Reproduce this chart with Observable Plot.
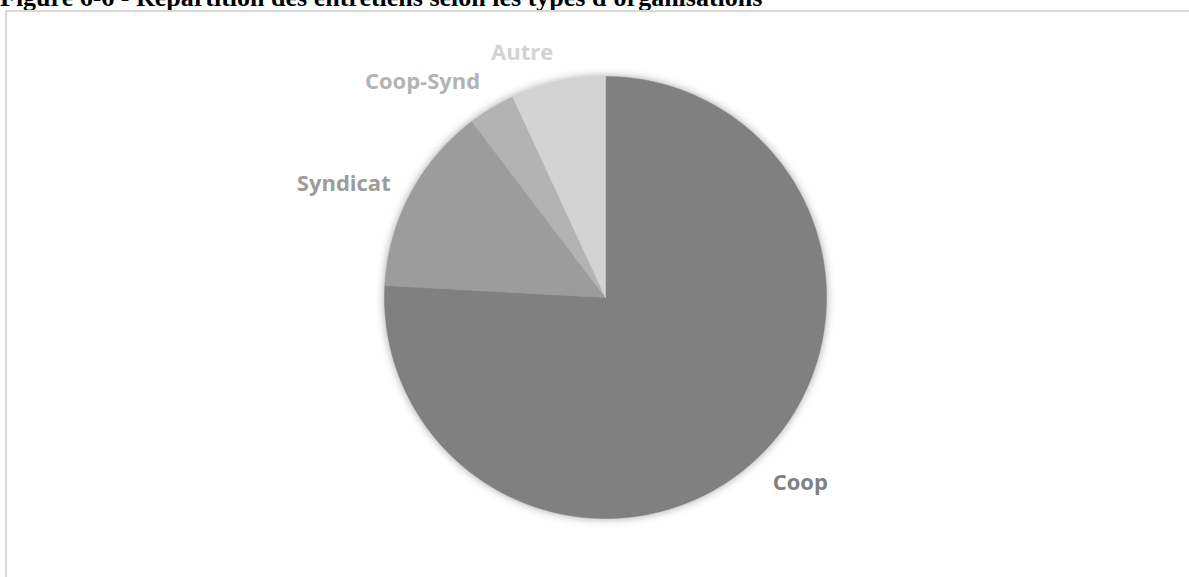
<!DOCTYPE html>
<html>
<head>
<meta charset="utf-8">
<script src="https://cdn.jsdelivr.net/npm/d3@7"></script>
<script src="https://cdn.jsdelivr.net/npm/@observablehq/plot@0.6"></script>
<style>
  html, body { margin: 0; padding: 0; background: #fff; width: 1189px; height: 577px; overflow: hidden; }
  #title { position: absolute; left: 0px; top: -15px; font-family: "Liberation Serif", "Times New Roman", serif; font-weight: bold; font-size: 26px; line-height: 26px; color: #000; white-space: nowrap; }
  #frame { position: absolute; left: 5px; top: 10px; width: 1200px; height: 600px; border-left: 2px solid #d9d9d9; border-top: 2px solid #d9d9d9; }
  #chart { position: absolute; left: 0; top: 0; }
</style>
</head>
<body>
<div id="title">Figure 6-6 - Répartition des entretiens selon les types d'organisations</div>
<div id="frame"></div>
<div id="chart"></div>
<script>
// Data (number of interviews per organisation type)
const categories = ["Coop", "Syndicat", "Coop-Synd", "Autre"];
const counts = [22, 4, 1, 2];

// Styles
const colors = ["#808080", "#9c9c9c", "#b3b3b3", "#d3d3d3"];

const total = d3.sum(counts);
let acc = 0;
const slices = categories.map((c, i) => {
  const a0 = acc / total * 2 * Math.PI;
  acc += counts[i];
  const a1 = acc / total * 2 * Math.PI;
  return {category: c, a0, a1, mid: (a0 + a1) / 2};
});

// polygon points for each slice (angle from top, clockwise; y up)
const pts = [];
for (const s of slices) {
  pts.push({category: s.category, x: 0, y: 0});
  const n = Math.max(2, Math.ceil((s.a1 - s.a0) / (Math.PI / 360)) + 1);
  for (let k = 0; k < n; k++) {
    const a = s.a0 + (s.a1 - s.a0) * k / (n - 1);
    pts.push({category: s.category, x: Math.sin(a), y: Math.cos(a)});
  }
  pts.push({category: s.category, x: 0, y: 0});
}

// labels, outside end
const labelR = 1.1;
const labels = slices.map(s => {
  const sx = Math.sin(s.mid), cy = Math.cos(s.mid);
  return {
    category: s.category,
    x: labelR * sx,
    y: labelR * cy,
    ta: sx >= 0 ? "start" : "end",
    la: cy > 0.5 ? "bottom" : (cy < -0.5 ? "top" : "middle")
  };
});

const textMarks = d3.groups(labels, d => d.ta + "|" + d.la).map(([key, arr]) => {
  const [ta, la] = key.split("|");
  return Plot.text(arr, {
    x: "x", y: "y", text: "category", fill: "category",
    textAnchor: ta, lineAnchor: la,
    fontFamily: "'Open Sans', sans-serif", fontWeight: "bold", fontSize: 22
  });
});

const chart = Plot.plot({
  width: 1189,
  height: 577,
  marginLeft: 384,
  marginRight: 363,
  marginTop: 76,
  marginBottom: 59,
  style: {background: "transparent", overflow: "visible"},
  x: {domain: [-1, 1], axis: null},
  y: {domain: [-1, 1], axis: null},
  color: {domain: categories, range: colors},
  marks: [
    Plot.line(pts, {x: "x", y: "y", z: "category", fill: "category", stroke: "category", strokeWidth: 0.5, curve: "linear"}),
    ...textMarks
  ]
});
document.getElementById("chart").appendChild(chart);
const lineG = chart.querySelector('g[aria-label="line"]');
if (lineG) lineG.style.filter = "drop-shadow(0px 0px 4px rgba(0,0,0,0.35))";
</script>
</body>
</html>
